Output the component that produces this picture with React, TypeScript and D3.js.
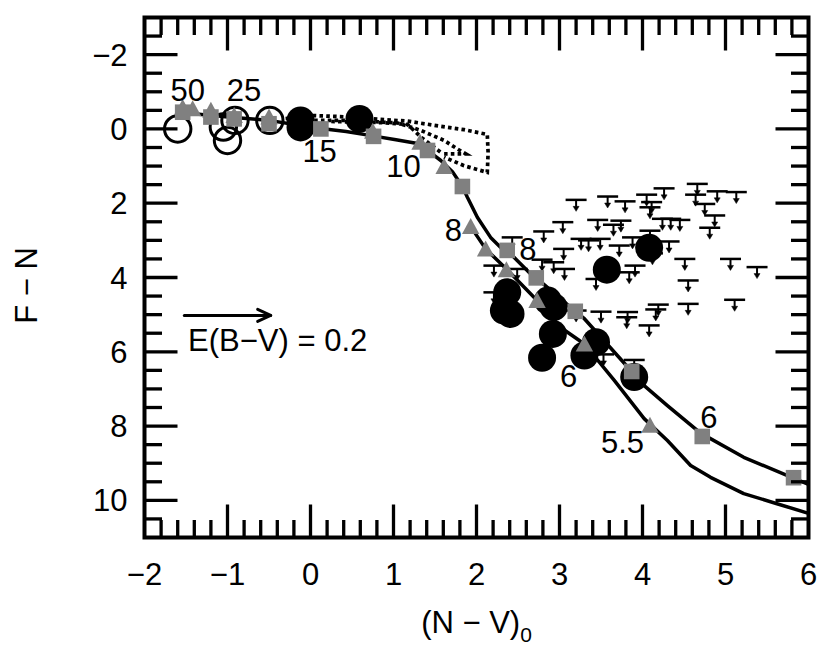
import React from 'react';
import * as d3 from 'd3';

const FONT = '"Liberation Sans", Arial, Helvetica, sans-serif';

// axis ticks
const xTickLabels = [-2, -1, 0, 1, 2, 3, 4, 5, 6];
const yTickLabels = [-2, 0, 2, 4, 6, 8, 10];

// model track 1 (squares) and track 2 (triangles), solid curves
const track1: [number, number][] = [
  [-1.54, -0.44], [-1.2, -0.36], [-0.92, -0.31], [-0.5, -0.23], [-0.12, -0.09], [0.125, -0.01],
  [0.43, 0.07], [0.73, 0.18], [1.03, 0.29], [1.29, 0.39], [1.41, 0.58], [1.57, 0.85], [1.71, 1.15],
  [1.83, 1.55], [1.89, 1.84], [2.01, 2.38], [2.17, 2.92], [2.31, 3.23], [2.37, 3.27], [2.49, 3.54],
  [2.65, 3.9], [2.72, 4.01], [3.19, 4.91], [3.3, 5.11], [3.87, 6.53], [4.02, 6.91], [4.3, 7.45],
  [4.7, 8.19], [5.22, 8.84], [5.74, 9.33], [6.0, 9.57],
];
const track2: [number, number][] = [
  [1.93, 2.63], [2.11, 3.23], [2.37, 3.79], [2.73, 4.62], [3.01, 5.34], [3.3, 5.79], [3.66, 6.77],
  [4.02, 7.8], [4.3, 8.39], [4.58, 9.06], [4.82, 9.38], [5.22, 9.82], [5.62, 10.09], [6.0, 10.35],
];

// dotted tracks
const dotted1: [number, number][] = [
  [-0.3, -0.28], [0.04, -0.36], [0.49, -0.32], [0.76, -0.27], [1.17, -0.21], [1.57, -0.07],
  [1.85, 0.02], [2.13, 0.15], [2.14, 0.64], [2.13, 1.17], [1.85, 0.99], [1.61, 0.76],
];
const dotted2: [number, number][] = [
  [-0.12, -0.23], [0.49, -0.23], [1.05, -0.16], [1.33, 0.04], [1.61, 0.31], [1.77, 0.54],
  [1.87, 0.67], [1.61, 0.67],
];
const dotted3: [number, number][] = [
  [0.25, -0.2], [0.85, -0.17], [1.17, -0.12], [1.33, 0.22], [1.57, 0.63],
];

// markers
const squares: [number, number][] = [
  [-1.54, -0.45], [-1.2, -0.32], [-0.92, -0.27], [-0.5, -0.14], [0.125, 0.0], [0.76, 0.2],
  [1.41, 0.58], [1.83, 1.55], [2.37, 3.27], [2.72, 4.01], [3.19, 4.91], [3.87, 6.53],
  [4.72, 8.28], [5.82, 9.39],
];
const triangles: [number, number][] = [
  [-1.54, -0.58], [-1.42, -0.54], [-1.2, -0.5], [-0.92, -0.36], [-0.5, -0.32], [0.75, 0.06],
  [1.32, 0.36], [1.61, 1.01], [1.93, 2.63], [2.11, 3.23], [2.36, 3.79], [2.73, 4.62],
  [3.3, 5.79], [4.09, 7.98],
];
const filledCircles: [number, number][] = [
  [-0.12, -0.23], [-0.12, -0.04], [0.59, -0.27], [2.37, 4.4], [2.33, 4.89], [2.41, 4.98],
  [2.86, 4.62], [2.93, 4.8], [2.92, 5.52], [2.79, 6.16], [3.44, 5.74], [3.3, 6.1],
  [3.9, 6.68], [3.57, 3.79], [4.08, 3.2],
];
const openCircles: [number, number][] = [
  [-1.6, 0.0], [-1.05, -0.05], [-1.0, 0.31], [-0.91, -0.23], [-0.49, -0.23],
];
const upperLimits: [number, number][] = [
  [3.2, 1.91], [3.58, 1.82], [3.79, 1.95], [4.05, 1.77], [4.26, 1.6], [4.11, 1.97], [4.09, 2.11],
  [4.66, 1.48], [4.64, 1.77], [4.9, 1.68], [5.13, 1.7], [4.75, 2.02], [4.87, 2.33], [4.81, 2.66],
  [3.04, 2.51], [2.81, 2.76], [3.46, 2.45], [3.74, 2.47], [3.65, 2.58], [4.24, 2.42], [4.34, 2.42],
  [4.45, 2.45], [3.26, 2.96], [3.35, 3.0], [3.49, 2.96], [3.72, 3.14], [4.09, 2.74], [4.32, 3.03],
  [3.05, 3.23], [3.06, 3.77], [3.44, 4.04], [3.91, 3.68], [3.84, 3.86], [4.51, 3.5], [5.06, 3.5],
  [5.38, 3.72], [4.55, 4.08], [3.5, 4.92], [3.82, 4.93], [3.81, 5.07], [4.19, 4.73], [4.16, 4.86],
  [4.08, 5.29], [4.55, 4.71], [5.11, 4.6], [2.43, 2.92], [2.79, 3.52], [2.93, 3.59], [2.21, 3.68],
  [2.49, 3.77], [2.21, 4.4], [3.53, 6.07], [3.9, 6.22], [3.88, 2.92], [4.12, 3.35], [3.2, 4.89],
];

// annotation labels
const labelTexts = ['50', '25', '15', '10', '8', '8', '6', '5.5', '6'];
const labelPos: [number, number][] = [
  [-1.48, -0.76], [-0.8, -0.76], [0.11, 0.9], [1.12, 1.3], [1.72, 3.02], [2.62, 3.54],
  [3.11, 6.94], [3.76, 8.72], [4.8, 8.05],
];

// reddening vector
const reddening: [number, number][] = [[-1.52, 5.02], [-0.48, 5.02]];
const reddeningLabel = 'E(B\u2212V) = 0.2';
const reddeningLabelPos: [number, number] = [-1.475, 5.98];

export default function App() {
  const x = d3.scaleLinear().domain([-2, 6]).range([144.5, 808.5]);
  const y = d3.scaleLinear().domain([-3, 11]).range([17.5, 537.5]);
  const line = d3.line<[number, number]>().x((d) => x(d[0])).y((d) => y(d[1]));

  const left = x(-2), right = x(6), top = y(-3), bottom = y(11);
  const xTicks = d3.range(1, 40).map((i) => ({ v: -2 + i * 0.2, major: i % 5 === 0 }));
  const yTicks = d3.range(1, 28).map((i) => ({ v: -3 + i * 0.5, major: i % 4 === 2 }));
  const MAJ = 33, MIN = 17.5;
  const fmt = (v: number) => (v < 0 ? '\u2212' + Math.abs(v) : String(v));

  const [r0, r1] = reddening;
  const ax = x(r1[0]), ay = y(r1[1]);

  return (
    <svg width={830} height={664} style={{ position: 'absolute', left: 0, top: 0, background: '#fff' }}
      fontFamily={FONT}>
      <rect x={0} y={0} width={830} height={664} fill="#fff" />
      {/* upper limits */}
      <g stroke="#000" fill="#000">
        {upperLimits.map((d, i) => {
          const cx = x(d[0]), cy = y(d[1]);
          return (
            <g key={i}>
              <line x1={cx - 10.5} x2={cx + 10.5} y1={cy} y2={cy} strokeWidth={2.5} />
              <line x1={cx} x2={cx} y1={cy} y2={cy + 7} strokeWidth={2} />
              <path d={`M${cx - 3},${cy + 6.5}L${cx + 3},${cy + 6.5}L${cx},${cy + 11.5}Z`} strokeWidth={0.5} />
            </g>
          );
        })}
      </g>
      {/* dotted tracks */}
      <g fill="none" stroke="#000" strokeWidth={3.7} strokeDasharray="3.6 3.2">
        <path d={line(dotted1) || ''} />
        <path d={line(dotted2) || ''} />
        <path d={line(dotted3) || ''} />
      </g>
      {/* solid tracks */}
      <g fill="none" stroke="#000" strokeWidth={3.5} strokeLinejoin="round">
        <path d={line(track1) || ''} />
        <path d={line(track2) || ''} />
      </g>
      {/* open circles */}
      <g fill="none" stroke="#000" strokeWidth={3}>
        {openCircles.map((d, i) => (
          <circle key={i} cx={x(d[0])} cy={y(d[1])} r={13.2} />
        ))}
      </g>
      {/* filled circles */}
      <g fill="#000">
        {filledCircles.map((d, i) => (
          <circle key={i} cx={x(d[0])} cy={y(d[1])} r={14} />
        ))}
      </g>
      {/* triangles */}
      <g fill="#808080">
        {triangles.map((d, i) => {
          const cx = x(d[0]), cy = y(d[1]);
          return <path key={i} d={`M${cx},${cy - 8.5}L${cx + 8.7},${cy + 7.5}L${cx - 8.7},${cy + 7.5}Z`} />;
        })}
      </g>
      {/* squares */}
      <g fill="#808080">
        {squares.map((d, i) => (
          <rect key={i} x={x(d[0]) - 7.8} y={y(d[1]) - 7.8} width={15.6} height={15.6} />
        ))}
      </g>
      {/* labels */}
      <g fontSize={31} textAnchor="middle" fill="#000">
        {labelTexts.map((t, i) => (
          <text key={i} x={x(labelPos[i][0])} y={y(labelPos[i][1])}>{t}</text>
        ))}
      </g>
      {/* reddening arrow */}
      <g stroke="#000" strokeWidth={3} fill="none" strokeLinecap="round" strokeLinejoin="round">
        <line x1={x(r0[0])} y1={y(r0[1])} x2={ax} y2={ay} />
        <path d={`M${ax - 13},${ay - 6}L${ax},${ay}L${ax - 13},${ay + 6}`} />
      </g>
      <text x={x(reddeningLabelPos[0])} y={y(reddeningLabelPos[1])} fontSize={31}>{reddeningLabel}</text>
      {/* ticks */}
      <g stroke="#000" strokeWidth={3.3}>
        {xTicks.map((t, i) => {
          const px = x(t.v), len = t.major ? MAJ : MIN;
          return (
            <g key={i}>
              <line x1={px} x2={px} y1={bottom} y2={bottom - len} />
              <line x1={px} x2={px} y1={top} y2={top + len} />
            </g>
          );
        })}
        {yTicks.map((t, i) => {
          const py = y(t.v), len = t.major ? MAJ : MIN;
          return (
            <g key={i}>
              <line x1={left} x2={left + len} y1={py} y2={py} />
              <line x1={right} x2={right - len} y1={py} y2={py} />
            </g>
          );
        })}
      </g>
      <rect x={left} y={top} width={right - left} height={bottom - top} fill="none" stroke="#000" strokeWidth={4} />
      {/* tick labels */}
      <g fontSize={31} fill="#000">
        {xTickLabels.map((v) => (
          <text key={v} x={x(v)} y={bottom + 47} textAnchor="middle">{fmt(v)}</text>
        ))}
        {yTickLabels.map((v) => (
          <text key={v} x={left - 17} y={y(v) + 11} textAnchor="end">{fmt(v)}</text>
        ))}
      </g>
      {/* axis titles */}
      <text x={(left + right) / 2} y={633} fontSize={31} textAnchor="middle" fill="#000">
        (N {'\u2212'} V)<tspan fontSize={21} dy={9}>0</tspan>
      </text>
      <text transform={`translate(37,${(top + bottom) / 2 + 8}) rotate(-90)`} fontSize={31} textAnchor="middle" fill="#000">
        F {'\u2212'} N
      </text>
    </svg>
  );
}
